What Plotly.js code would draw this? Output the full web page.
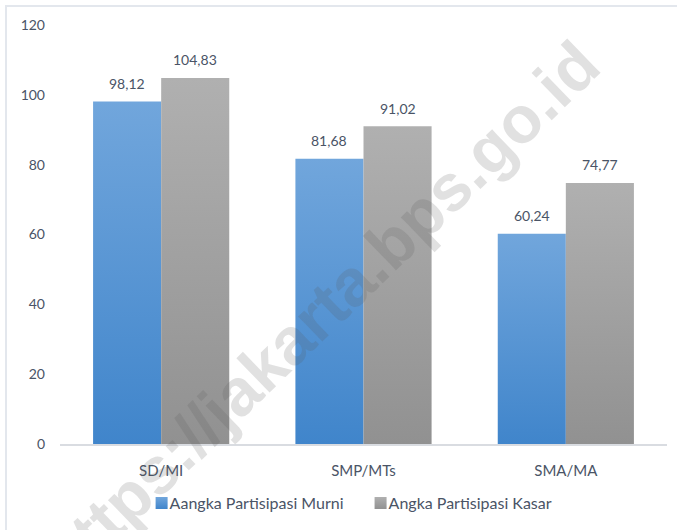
<!DOCTYPE html>
<html>
<head>
<meta charset="utf-8">
<script src="https://cdn.plot.ly/plotly-3.0.1.min.js"></script>
<style>
  html, body { margin: 0; padding: 0; background: #fff; }
  #wrap { position: relative; width: 677px; height: 530px; overflow: hidden; }
  #chart { position: absolute; left: 0; top: 0; width: 677px; height: 530px; }
  #frame { position: absolute; left: 5px; top: 5px; width: 700px; height: 600px;
           border-top: 2px solid #e3e7ed; border-left: 2px solid #e3e7ed; pointer-events: none; }
</style>
</head>
<body>
<div id="wrap"><div id="chart"></div><div id="frame"></div></div>
<script>
// ---- data ----
const categories = ["SD/MI", "SMP/MTs", "SMA/MA"];
const seriesNames = ["Aangka Partisipasi Murni", "Angka Partisipasi Kasar"];
const apm = [98.12, 81.68, 60.24];
const apk = [104.83, 91.02, 74.77];
const yTicks = [0, 20, 40, 60, 80, 100, 120];
const watermark = "https://jakarta.bps.go.id";

// ---- style ----
const FONT = "Lato, 'Open Sans', sans-serif";
const TXT = "#4a5466";
const colTop = ["#71a6dc", "#b0b0b0"];
const colBot = ["#4085cb", "#919191"];
const colMid = ["#5b96d4", "#a1a1a1"];
const BARGAP = 0.327;
const off = (1 - BARGAP) / 4;

const series = [apm, apk];
const traces = series.map((vals, i) => ({
  type: "bar",
  name: seriesNames[i],
  x: categories,
  y: vals,
  marker: { color: colMid[i], line: { width: 0 } },
  hoverinfo: "skip"
}));

const annotations = [];
series.forEach((vals, i) => {
  vals.forEach((v, j) => {
    annotations.push({
      x: j + (i === 0 ? -off : off), y: v, xref: "x", yref: "y",
      text: v.toFixed(2).replace(".", ","),
      showarrow: false, xanchor: "center", yanchor: "middle", yshift: 18,
      font: { family: FONT, size: 14, color: TXT }
    });
  });
});
annotations.push({
  xref: "paper", yref: "paper", x: 0.428, y: 0.315,
  xanchor: "center", yanchor: "middle",
  text: "<b>" + watermark + "</b>", showarrow: false, textangle: -44,
  font: { family: "'Liberation Sans', Arial, sans-serif", size: 66, color: "rgba(90,90,90,0.18)" }
});

const layout = {
  width: 677, height: 530,
  margin: { l: 60, r: 10, t: 25, b: 86 },
  paper_bgcolor: "#fff", plot_bgcolor: "#fff",
  barmode: "group", bargap: BARGAP, bargroupgap: 0,
  separators: ",.",
  font: { family: FONT, size: 14, color: TXT },
  xaxis: {
    type: "category", showgrid: false, zeroline: false,
    showline: true, linecolor: "#d9dce1", linewidth: 1.5,
    ticks: "", ticklabelstandoff: 12,
    tickfont: { family: FONT, size: 15, color: TXT }
  },
  yaxis: {
    range: [0, 120], tickvals: yTicks, ticktext: yTicks.map(String),
    showgrid: false, zeroline: false, showline: false, ticks: "",
    ticklabelstandoff: 14,
    tickfont: { family: FONT, size: 14, color: TXT }
  },
  showlegend: true,
  legend: {
    orientation: "h", x: 0.487, xanchor: "center", y: -0.141, yanchor: "middle",
    font: { family: FONT, size: 16, color: TXT },
    itemclick: false, itemdoubleclick: false, traceorder: "normal"
  },
  annotations: annotations
};

const gd = document.getElementById("chart");
Plotly.newPlot(gd, traces, layout, { staticPlot: true, displayModeBar: false }).then(() => {
  const svg = gd.querySelector("svg.main-svg");
  const ns = "http://www.w3.org/2000/svg";
  let defs = svg.querySelector("defs");
  if (!defs) { defs = document.createElementNS(ns, "defs"); svg.insertBefore(defs, svg.firstChild); }
  for (let i = 0; i < 2; i++) {
    const g = document.createElementNS(ns, "linearGradient");
    g.setAttribute("id", "bargrad" + i);
    g.setAttribute("x1", "0"); g.setAttribute("y1", "0");
    g.setAttribute("x2", "0"); g.setAttribute("y2", "1");
    const s1 = document.createElementNS(ns, "stop");
    s1.setAttribute("offset", "0"); s1.setAttribute("stop-color", colTop[i]);
    const s2 = document.createElementNS(ns, "stop");
    s2.setAttribute("offset", "1"); s2.setAttribute("stop-color", colBot[i]);
    g.appendChild(s1); g.appendChild(s2); defs.appendChild(g);
  }
  gd.querySelectorAll(".barlayer .trace").forEach((t, i) => {
    t.querySelectorAll("path").forEach(p => { p.style.fill = "url(#bargrad" + i + ")"; });
  });
  gd.querySelectorAll(".legend .traces").forEach((t, i) => {
    t.querySelectorAll(".legendpoints path").forEach(p => { p.style.fill = "url(#bargrad" + i + ")"; });
    // bring legend text closer to its symbol
    t.querySelectorAll("text.legendtext").forEach(tx => {
      const x = parseFloat(tx.getAttribute("x") || "40");
      tx.setAttribute("x", x - 12);
    });
  });
});
</script>
</body>
</html>
